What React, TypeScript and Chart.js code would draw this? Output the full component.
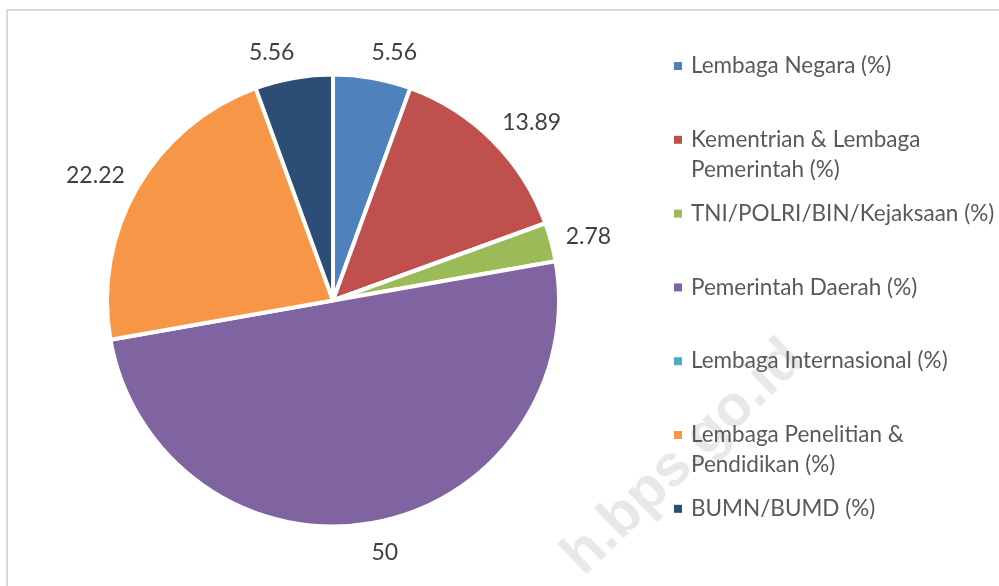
import React, { useEffect, useRef } from "react";
import { Chart, registerables } from "chart.js";

Chart.register(...registerables);

const categories = [
  "Lembaga Negara (%)",
  "Kementrian & Lembaga Pemerintah (%)",
  "TNI/POLRI/BIN/Kejaksaan (%)",
  "Pemerintah Daerah (%)",
  "Lembaga Internasional (%)",
  "Lembaga Penelitian & Pendidikan (%)",
  "BUMN/BUMD (%)",
];
const values = [5.56, 13.89, 2.78, 50, 0, 22.22, 5.56];
const colors = ["#4F81BD", "#C0504D", "#9BBB59", "#8064A2", "#4BACC6", "#F79646", "#2C4D75"];
const watermark = "h.bps.go.id";

const FONT_FAMILY = "Lato, 'Open Sans', sans-serif";
const LEGEND_FONT_SIZE = 22.5;
const LABEL_FONT_SIZE = 23;

function wrap(ctx: CanvasRenderingContext2D, text: string, maxW: number): string[] {
  const words = text.split(" ");
  const lines: string[] = [];
  let cur = "";
  for (const w of words) {
    const t = cur ? cur + " " + w : w;
    if (ctx.measureText(t).width > maxW && cur) {
      lines.push(cur);
      cur = w;
    } else cur = t;
  }
  if (cur) lines.push(cur);
  return lines;
}

const decorPlugin = {
  id: "decor",
  beforeDatasetsDraw(chart: any) {
    const ctx: CanvasRenderingContext2D = chart.ctx;
    ctx.save();
    // frame
    ctx.strokeStyle = "#d9d9d9";
    ctx.lineWidth = 2;
    ctx.beginPath();
    ctx.moveTo(7, chart.height + 5);
    ctx.lineTo(7, 10);
    ctx.lineTo(chart.width + 5, 10);
    ctx.stroke();
    // watermark
    ctx.translate(806, 362);
    ctx.rotate((-44 * Math.PI) / 180);
    ctx.font = "bold 58px 'Liberation Sans', sans-serif";
    ctx.fillStyle = "rgba(200,200,200,0.42)";
    ctx.textAlign = "right";
    ctx.textBaseline = "alphabetic";
    ctx.fillText(watermark, 0, 0);
    ctx.restore();
  },
  afterDatasetsDraw(chart: any) {
    const ctx: CanvasRenderingContext2D = chart.ctx;
    const meta = chart.getDatasetMeta(0);
    ctx.save();
    ctx.font = `${LABEL_FONT_SIZE}px ${FONT_FAMILY}`;
    ctx.fillStyle = "#404040";
    ctx.textAlign = "center";
    ctx.textBaseline = "middle";
    meta.data.forEach((arc: any, i: number) => {
      const v = values[i];
      if (!v) return;
      const { x, y, startAngle, endAngle, outerRadius } = arc.getProps(
        ["x", "y", "startAngle", "endAngle", "outerRadius"],
        true
      );
      const mid = (startAngle + endAngle) / 2;
      const txt = String(v);
      const w = ctx.measureText(txt).width;
      const h = 18;
      const c = Math.cos(mid);
      const s = Math.sin(mid);
      const d = outerRadius + 19;
      const px = x + c * d + Math.sign(c) * (w / 2 - 4);
      const py = y + s * d + s * (h / 2);
      ctx.fillText(txt, px, py + 2);
    });

    // legend
    ctx.font = `${LEGEND_FONT_SIZE}px ${FONT_FAMILY}`;
    ctx.textAlign = "left";
    const boxX = 674;
    const textX = 691;
    const startY = 66;
    const slot = 73.8;
    const lineH = 30;
    categories.forEach((cat, i) => {
      const yy = startY + i * slot;
      ctx.fillStyle = colors[i];
      ctx.fillRect(boxX, yy - 4, 8, 8);
      ctx.fillStyle = "#595959";
      const lines = wrap(ctx, cat, 305);
      lines.forEach((ln, j) => ctx.fillText(ln, textX, yy + j * lineH));
    });
    ctx.restore();
  },
};

export default function App() {
  const ref = useRef<HTMLCanvasElement | null>(null);
  useEffect(() => {
    if (!ref.current) return;
    const chart = new Chart(ref.current, {
      type: "pie",
      data: {
        labels: categories,
        datasets: [
          {
            data: values,
            backgroundColor: colors,
            borderColor: "#ffffff",
            borderWidth: 4,
            radius: 226,
          },
        ],
      },
      options: {
        responsive: false,
        animation: false,
        layout: { padding: { left: 0, top: 15, right: 333, bottom: 0 } },
        plugins: {
          legend: { display: false },
          tooltip: { enabled: false },
        },
      },
      plugins: [decorPlugin],
    });
    return () => chart.destroy();
  }, []);
  return (
    <div style={{ position: "fixed", left: 0, top: 0, width: 999, height: 586, background: "#fff" }}>
      <canvas ref={ref} width={999} height={586} style={{ display: "block" }} />
    </div>
  );
}
